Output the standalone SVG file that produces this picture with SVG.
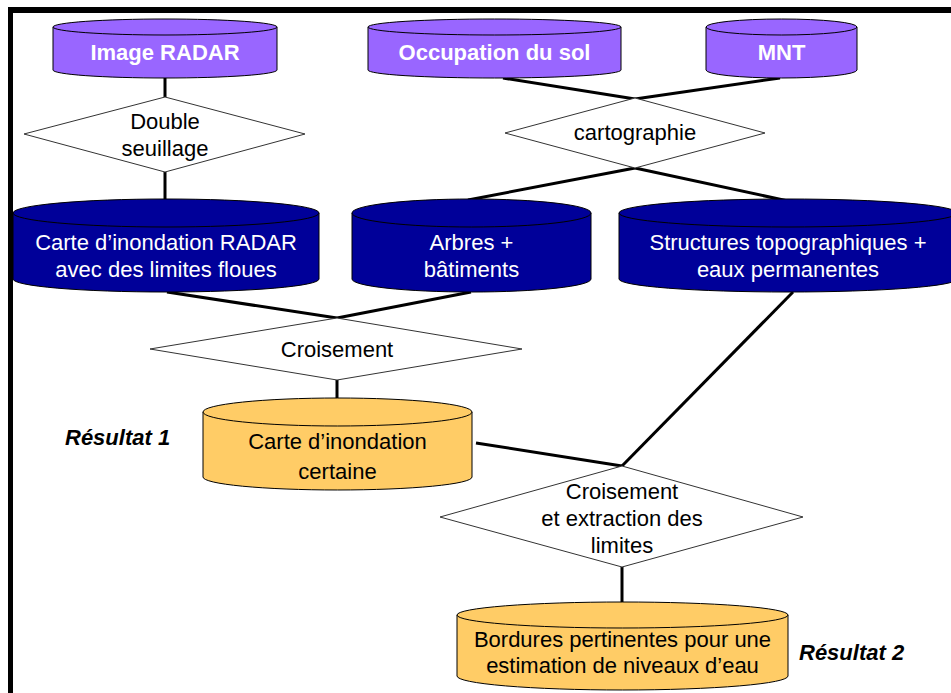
<svg xmlns="http://www.w3.org/2000/svg" width="951" height="693" viewBox="0 0 951 693">
<style>
.purple{fill:#9966FF;stroke:#000;stroke-width:1}
.navy{fill:#000099;stroke:#000;stroke-width:1}
.orange{fill:#FFCC66;stroke:#000;stroke-width:1}
.dia{fill:#fff;stroke:#333;stroke-width:1}
.conn line{stroke:#000;stroke-width:3;stroke-linecap:butt}
text{font-family:"Liberation Sans",Arial,sans-serif;font-size:22px;text-anchor:middle}
.wb{fill:#fff;font-weight:bold;font-size:22px}
.w{fill:#fff}
.k{fill:#000}
.res{fill:#000;font-weight:bold;font-style:italic;text-anchor:start}
</style>
<rect x="0" y="0" width="951" height="693" fill="#fff"/>
<rect x="8" y="7" width="943" height="6" fill="#000"/>
<rect x="8" y="7" width="5" height="686" fill="#000"/>

<g id="connectors" class="conn">
<line x1="165" y1="78" x2="165" y2="97"/>
<line x1="165" y1="172" x2="165" y2="200"/>
<line x1="503" y1="78" x2="635" y2="99"/>
<line x1="780" y1="78" x2="635" y2="99"/>
<line x1="635" y1="168" x2="468" y2="200"/>
<line x1="635" y1="168" x2="788" y2="201"/>
<line x1="167" y1="292" x2="337" y2="318"/>
<line x1="471" y1="292" x2="337" y2="318"/>
<line x1="337" y1="380" x2="337" y2="399"/>
<line x1="476" y1="443" x2="622" y2="466"/>
<line x1="793" y1="292" x2="622" y2="466"/>
<line x1="622" y1="567" x2="622" y2="603"/>
</g>

<g id="image-radar">
<path class="purple" d="M53,27 L53,70 A112,8 0 0 0 277,70 L277,27 Z"/>
<ellipse class="purple" cx="165" cy="27" rx="112" ry="8"/>
<text class="wb" x="165" y="60">Image RADAR</text>
</g>
<g id="occupation">
<path class="purple" d="M368,27 L368,70 A126.5,8 0 0 0 621,70 L621,27 Z"/>
<ellipse class="purple" cx="494.5" cy="27" rx="126.5" ry="8"/>
<text class="wb" x="494.5" y="60">Occupation du sol</text>
</g>
<g id="mnt">
<path class="purple" d="M706,27 L706,70 A75.5,8 0 0 0 857,70 L857,27 Z"/>
<ellipse class="purple" cx="781.5" cy="27" rx="75.5" ry="8"/>
<text class="wb" x="781.5" y="60">MNT</text>
</g>

<g id="double-seuillage">
<polygon class="dia" points="165,97 305,134 165,172 24,134"/>
<text class="k" x="165" y="129">Double</text>
<text class="k" x="165" y="156">seuillage</text>
</g>
<g id="cartographie">
<polygon class="dia" points="635,98 765,133 635,168 505,133"/>
<text class="k" x="635" y="140">cartographie</text>
</g>

<g id="carte-radar">
<path class="navy" d="M13,213 L13,279 A153,13 0 0 0 319,279 L319,213 Z"/>
<ellipse class="navy" cx="166" cy="213" rx="153" ry="14"/>
<text class="w" x="166" y="250">Carte d’inondation RADAR</text>
<text class="w" x="166" y="277">avec des limites floues</text>
</g>
<g id="arbres">
<path class="navy" d="M352,213 L352,279 A119.5,13 0 0 0 591,279 L591,213 Z"/>
<ellipse class="navy" cx="471.5" cy="213" rx="119.5" ry="14"/>
<text class="w" x="471.5" y="250">Arbres +</text>
<text class="w" x="471.5" y="277">bâtiments</text>
</g>
<g id="structures">
<path class="navy" d="M619,213 L619,279 A169,13 0 0 0 957,279 L957,213 Z"/>
<ellipse class="navy" cx="788" cy="213" rx="169" ry="14"/>
<text class="w" x="788" y="250">Structures topographiques +</text>
<text class="w" x="788" y="277">eaux permanentes</text>
</g>

<g id="croisement">
<polygon class="dia" points="337,318 522,349 337,380 150,349"/>
<text class="k" x="337" y="357">Croisement</text>
</g>

<g id="carte-certaine">
<path class="orange" d="M203,412 L203,477 A134.5,13 0 0 0 472,477 L472,412 Z"/>
<ellipse class="orange" cx="337.5" cy="412" rx="134.5" ry="14"/>
<text class="k" x="337.5" y="449">Carte d’inondation</text>
<text class="k" x="337.5" y="479">certaine</text>
</g>
<g id="resultat1">
<text class="res" x="65" y="445">Résultat 1</text>
</g>

<g id="croisement-extraction">
<polygon class="dia" points="622,466 803,517 622,567 440,517"/>
<text class="k" x="622" y="499">Croisement</text>
<text class="k" x="622" y="526">et extraction des</text>
<text class="k" x="622" y="553">limites</text>
</g>

<g id="bordures">
<path class="orange" d="M457,615 L457,676 A165.5,14 0 0 0 788,676 L788,615 Z"/>
<ellipse class="orange" cx="622.5" cy="615" rx="165.5" ry="13"/>
<text class="k" x="622.5" y="647">Bordures pertinentes pour une</text>
<text class="k" x="622.5" y="673">estimation de niveaux d’eau</text>
</g>
<g id="resultat2">
<text class="res" x="799" y="660">Résultat 2</text>
</g>
</svg>
